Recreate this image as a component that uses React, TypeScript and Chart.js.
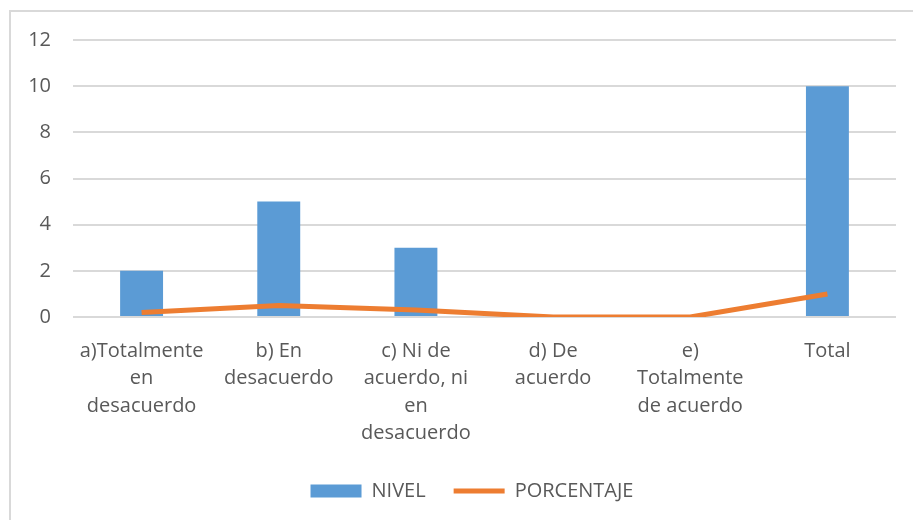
import React, { useEffect, useRef } from "react";
import { Chart, registerables } from "chart.js";

Chart.register(...registerables);

const categories: string[][] = [
  ["a)Totalmente", "en", "desacuerdo"],
  ["b) En", "desacuerdo"],
  ["c) Ni de", "acuerdo, ni", "en", "desacuerdo"],
  ["d) De", "acuerdo"],
  ["e)", "Totalmente", "de acuerdo"],
  ["Total"],
];
const nivel: number[] = [2, 5, 3, 0, 0, 10];
const porcentaje: number[] = [0.2, 0.5, 0.3, 0, 0, 1];
const yTicks: number[] = [0, 2, 4, 6, 8, 10, 12];

const FONT = "'Open Sans'";
const TEXT = "#595959";
const GRID = "#D9D9D9";

const shiftLegend = {
  id: "shiftLegend",
  afterLayout(chart: any) {
    if (chart.legend) {
      chart.legend.left += 24;
      chart.legend.right += 24;
    }
  },
};

export default function App() {
  const ref = useRef<HTMLCanvasElement>(null);
  useEffect(() => {
    if (!ref.current) return;
    const chart = new Chart(ref.current, {
      type: "bar",
      plugins: [shiftLegend],
      data: {
        labels: categories,
        datasets: [
          {
            type: "bar",
            label: "NIVEL",
            data: nivel,
            backgroundColor: "#5B9BD5",
            borderWidth: 0,
            barPercentage: 0.313,
            categoryPercentage: 1,
            order: 1,
          },
          {
            type: "line",
            label: "PORCENTAJE",
            data: porcentaje,
            borderColor: "#ED7D31",
            backgroundColor: "#ED7D31",
            borderWidth: 5,
            pointRadius: 0,
            tension: 0,
            order: 0,
          } as any,
        ],
      },
      options: {
        animation: false,
        responsive: false,
        layout: { padding: { left: 0, right: 17, top: 40, bottom: 9 } },
        scales: {
          x: {
            grid: { display: false, drawTicks: false },
            border: { display: false },
            ticks: {
              color: TEXT,
              font: { family: FONT, size: 20, lineHeight: 1.38 },
              padding: 20,
              maxRotation: 0,
              autoSkip: false,
            },
            afterFit: (s: any) => {
              s.height = 136;
            },
          },
          y: {
            min: 0,
            max: 12,
            afterBuildTicks: (s: any) => {
              s.ticks = yTicks.map((v) => ({ value: v }));
            },
            grid: { color: GRID, lineWidth: 2, drawTicks: false },
            border: { display: false },
            ticks: {
              color: TEXT,
              font: { family: FONT, size: 20 },
              padding: 22,
            },
            afterFit: (s: any) => {
              s.width = 73;
            },
          },
        },
        plugins: {
          tooltip: { enabled: false },
          legend: {
            position: "bottom",
            labels: {
              color: TEXT,
              font: { family: FONT, size: 20 },
              usePointStyle: true,
              pointStyleWidth: 51,
              boxHeight: 13,
              padding: 28,
              sort: (a: any, b: any) => a.datasetIndex - b.datasetIndex,
              generateLabels: (c: any) => {
                const items = (Chart.defaults.plugins.legend.labels as any).generateLabels(c);
                items.forEach((it: any) => {
                  if (it.datasetIndex === 0) {
                    it.pointStyle = "rect";
                    it.lineWidth = 0;
                  } else {
                    it.pointStyle = "line";
                    it.lineWidth = 5;
                  }
                });
                return items;
              },
            },
          },
        },
      },
    });
    return () => chart.destroy();
  }, []);
  return (
    <div>
      <div
        style={{
          position: "absolute",
          left: 9,
          top: 10,
          width: 1000,
          height: 700,
          border: "2px solid #D9D9D9",
          boxSizing: "border-box",
        }}
      />
      <canvas
        ref={ref}
        width={913}
        height={520}
        style={{ position: "absolute", left: 0, top: 0, width: 913, height: 520 }}
      />
    </div>
  );
}
